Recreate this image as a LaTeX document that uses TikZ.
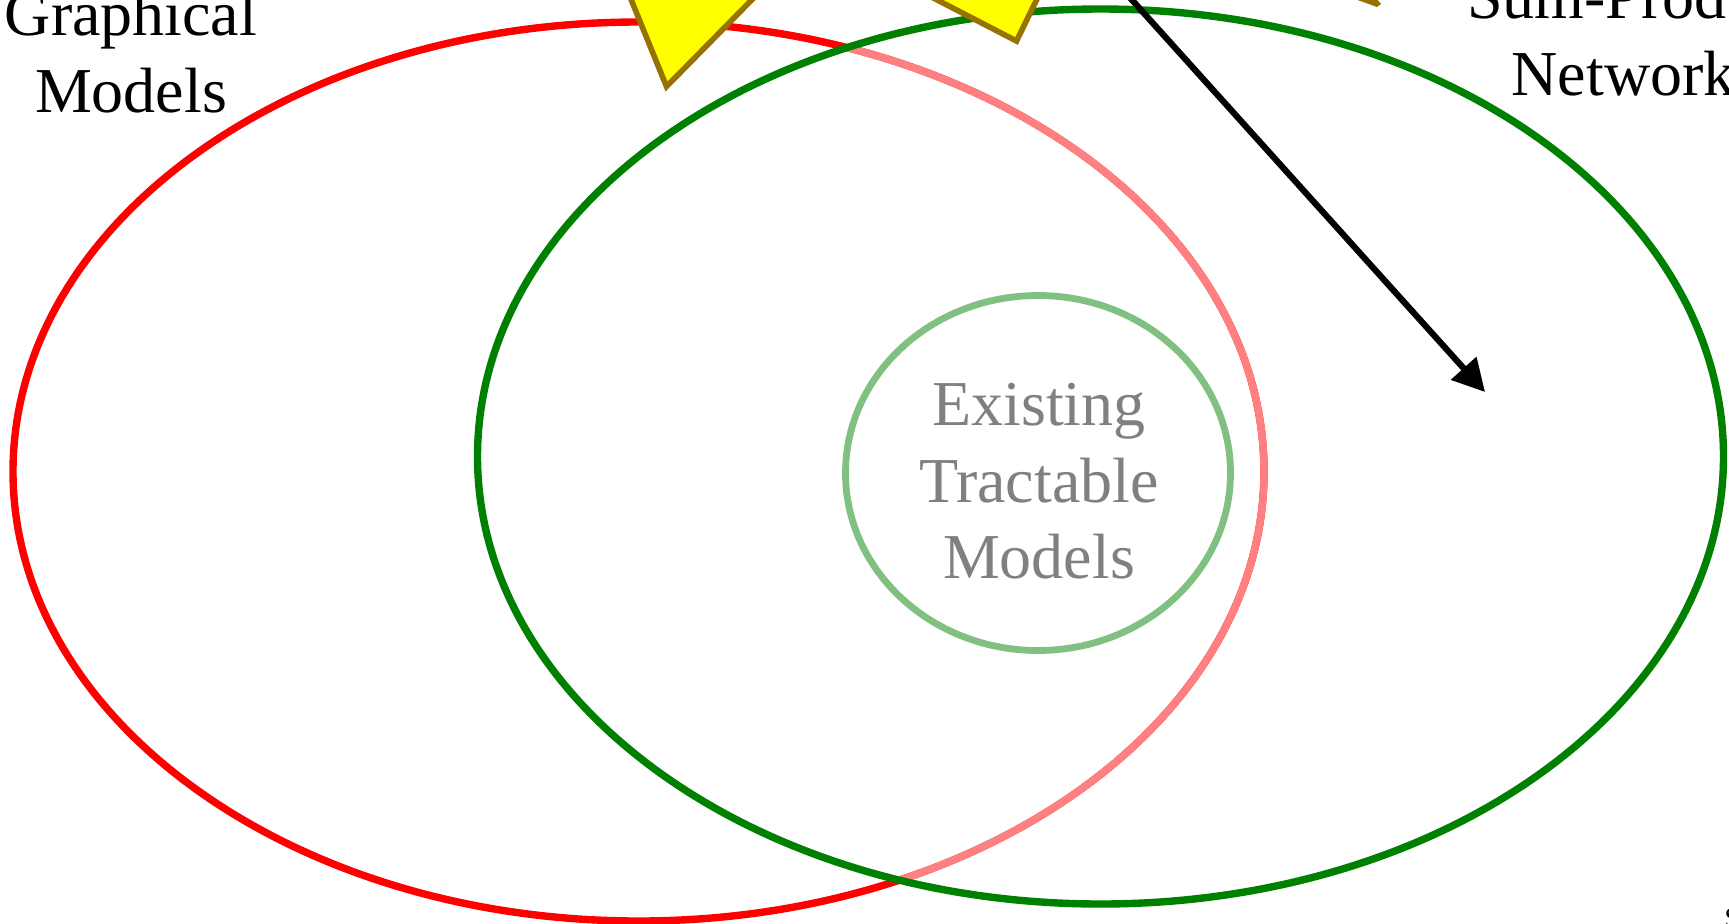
\documentclass[tikz,border=0pt]{standalone}
\usepackage{fontspec}
\setmainfont{Liberation Serif}
\usetikzlibrary{arrows.meta}
\definecolor{gred}{RGB}{255,0,0}
\definecolor{gpink}{RGB}{255,128,128}
\definecolor{ggreen}{RGB}{0,128,0}
\definecolor{glgreen}{RGB}{128,192,128}
\definecolor{ggray}{RGB}{128,128,128}
\definecolor{gyellow}{RGB}{255,255,0}
\definecolor{gbrown}{RGB}{152,114,0}
\tikzset{
  setline/.style={line width=3.7pt},
  lbl/.style={inner sep=0pt, anchor=base, font=\fontsize{32}{38.5}\selectfont},
  fadedlbl/.style={lbl, text=ggray},
  starpart/.style={fill=gyellow, draw=gbrown, line width=2.8pt},
}
\begin{document}
\begin{tikzpicture}[x=0.5pt,y=-0.5pt]
\useasboundingbox (0,0) rectangle (1729,923);
\clip (0,0) rectangle (1729,923);
\fill[white] (0,0) rectangle (1729,923);
% Graphical models (red)
\draw[setline, gred] (638.5,471.5) ellipse [x radius=625.5, y radius=449.5];
\begin{scope}
  \clip (1100.5,456.5) ellipse [x radius=623, y radius=447.5];
  \draw[setline, gpink] (638.5,471.5) ellipse [x radius=625.5, y radius=449.5];
\end{scope}
% Sum-product networks (green)
\draw[setline, ggreen] (1100.5,456.5) ellipse [x radius=623, y radius=447.5];
% Existing tractable models
\draw[line width=3.4pt, glgreen] (1038,473) ellipse [x radius=192.5, y radius=177.5];
\node[fadedlbl] (e1) at (1039,425) {Existing};
\node[fadedlbl] (e2) at (1039,502) {Tractable};
\node[fadedlbl] (e3) at (1039,578) {Models};
% labels
\node[lbl] (g1) at (131,35) {Graphical};
\node[lbl] (g2) at (131,112) {Models};
\node[lbl] (s1) at (1636,18) {Sum-Product};
\node[lbl] (s2) at (1636,95) {Networks};
\node[inner sep=0pt, anchor=base west, font=\fontsize{15}{18}\selectfont] (sx) at (1724,928) {S};
% yellow star parts
\draw[starpart] (615,-40) -- (666.5,86.5) -- (791,-40) -- cycle;
\draw[starpart] (860,-40) -- (1016.5,41) -- (1056,-40) -- cycle;
\fill[gbrown] (1352,-2) -- (1376,-2) -- (1381,4) -- (1377,7) -- cycle;
% arrow
\coordinate (a0) at (1087,-50);
\coordinate (a1) at (1485,392);
\draw[line width=3.1pt, -{Triangle[length=16pt,width=16.5pt]}] (a0) -- (a1);
\end{tikzpicture}
\end{document}
